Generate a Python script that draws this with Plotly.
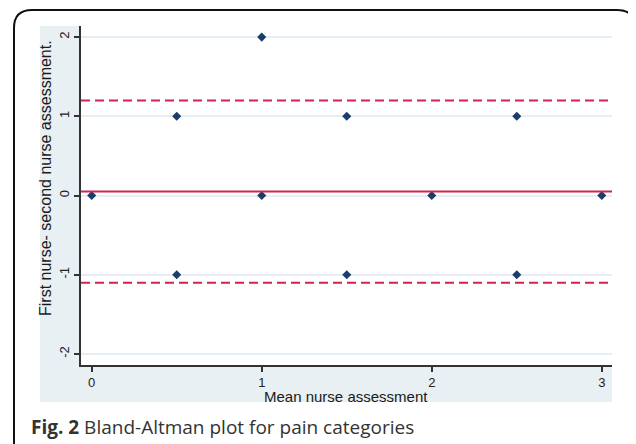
import plotly.graph_objects as go

# Data
mean_assessment = [0, 0.5, 0.5, 1, 1, 1.5, 1.5, 2, 2.5, 2.5, 3]
difference = [0, 1, -1, 2, 0, 1, -1, 0, 1, -1, 0]
mean_diff = 0.05
upper_loa = 1.2
lower_loa = -1.1
x_ticks = [0, 1, 2, 3]
y_ticks = [-2, -1, 0, 1, 2]
y_ticktext = ["-2", "-1", "0", "1", "2"]

# page body has an 8px margin; shift everything to compensate
OFF = 8
W, H = 636, 444
def px(x):
    return (x - OFF) / W
def py(y):
    return 1 - (y - OFF) / H

NAVY = "#1b3d6b"
RED = "#cf2550"
BLUEGRAY = "#e9f0f3"

fig = go.Figure()
fig.add_trace(go.Scatter(
    x=mean_assessment, y=difference, mode="markers",
    marker=dict(symbol="diamond", size=7, color=NAVY, line=dict(width=0)),
    showlegend=False, hoverinfo="x+y"))

shapes = []
# graph region background strips
shapes.append(dict(type="rect", xref="paper", yref="paper",
                   x0=px(40), x1=px(81), y0=py(402), y1=py(26),
                   fillcolor=BLUEGRAY, line=dict(width=0), layer="below"))
shapes.append(dict(type="rect", xref="paper", yref="paper",
                   x0=px(81), x1=px(612), y0=py(402), y1=py(365),
                   fillcolor=BLUEGRAY, line=dict(width=0), layer="below"))
# reference lines
shapes.append(dict(type="line", xref="x domain", yref="y", x0=0, x1=1,
                   y0=mean_diff, y1=mean_diff, line=dict(color=RED, width=2)))
for v in (upper_loa, lower_loa):
    shapes.append(dict(type="line", xref="x domain", yref="y", x0=0, x1=1,
                       y0=v, y1=v, line=dict(color=RED, width=2, dash="9px,5px")))
# outer rounded frame
r = 18
L, T, R, B = 14, 10, 635, 470
path = (f"M {px(L)},{py(B)} L {px(L)},{py(T + r)} "
        f"Q {px(L)},{py(T)} {px(L + r)},{py(T)} "
        f"L {px(R - r)},{py(T)} Q {px(R)},{py(T)} {px(R)},{py(T + r)} "
        f"L {px(R)},{py(B)}")
shapes.append(dict(type="path", xref="paper", yref="paper", path=path,
                   line=dict(color="#111111", width=2)))

annotations = [
    dict(text="First nurse- second nurse assessment.", xref="paper", yref="paper",
         x=px(45), y=py(178), xanchor="center", yanchor="middle",
         textangle=-90, showarrow=False,
         font=dict(family="Arial", size=16, color="#1a1a1a")),
    dict(text="Mean nurse assessment", xref="paper", yref="paper",
         x=px(346), y=py(396), xanchor="center", yanchor="middle", showarrow=False,
         font=dict(family="Arial", size=15, color="#1a1a1a")),
    dict(text="<b>Fig. 2</b> Bland-Altman plot for pain categories", xref="paper", yref="paper",
         x=px(29), y=py(427), xanchor="left", yanchor="middle", showarrow=False,
         font=dict(family="Open Sans", size=19, color="#333333")),
]

fig.update_layout(
    width=W, height=H,
    margin=dict(l=0, r=0, t=0, b=0),
    paper_bgcolor="white", plot_bgcolor="white",
    shapes=shapes, annotations=annotations,
    xaxis=dict(domain=[px(81), px(612)], range=[-0.063, 3.06],
               tickvals=x_ticks, ticks="outside", ticklen=5, tickwidth=1.5,
               tickcolor="#333333", showline=True, linecolor="#333333", linewidth=1.5,
               showgrid=False, zeroline=False,
               tickfont=dict(family="Arial", size=13, color="#222222")),
    yaxis=dict(domain=[py(365), py(26)], range=[-2.14, 2.14],
               tickvals=y_ticks, ticktext=y_ticktext, tickangle=-90,
               ticks="outside", ticklen=5, tickwidth=1.5, tickcolor="#333333",
               showline=True, linecolor="#333333", linewidth=1.5,
               showgrid=True, gridcolor="#e6eef5", gridwidth=1.5, zeroline=False,
               tickfont=dict(family="Arial", size=13, color="#222222")),
)

fig.write_html("out.html")
